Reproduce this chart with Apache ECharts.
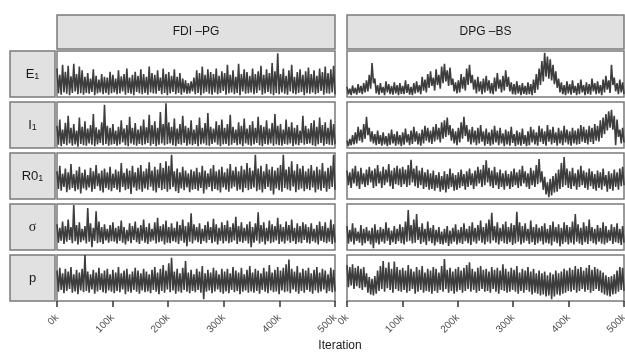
<!DOCTYPE html>
<html>
<head>
<meta charset="utf-8">
<script src="https://cdn.jsdelivr.net/npm/echarts@6/dist/echarts.min.js"></script>
<style>
  html, body { margin: 0; padding: 0; background: #fff; }
  #chart { width: 625px; height: 352px; }
</style>
</head>
<body>
<div id="chart"></div>
<script>
// trace envelopes: for each 5k-iteration step one high and one low value (0-100 of panel height)
const xTicks = [0, 100000, 200000, 300000, 400000, 500000];
const methods = ["FDI \u2013PG", "DPG \u2013BS"];
const params = ["E1", "I1", "R01", "sigma", "p"];

const e1FdiHi = [62,48,70,55,68,45,72,50,66,58, 44,52,40,60,46,38,50,44,42,55, 48,40,58,45,50,62,42,48,55,46, 60,50,44,66,52,48,58,42,62,50,
  54,46,60,44,52,40,36,30,34,42, 58,52,66,48,60,54,50,62,46,56, 52,70,48,58,44,72,50,60,54,46, 62,50,56,68,48,60,52,74,56,95,
  50,62,46,58,70,44,54,60,48,56, 64,50,58,46,62,54,66,52,60,68];
const e1FdiLo = [8,5,10,7,4,9,12,6,8,5, 9,7,11,4,8,10,6,9,5,8, 10,6,8,12,5,9,7,4,11,8, 6,9,5,10,8,7,13,6,9,4,
  8,11,6,9,5,10,7,8,12,6, 9,4,8,11,7,5,10,6,9,13, 5,8,10,6,9,4,12,7,8,10, 6,9,14,5,8,11,7,4,9,6,
  10,7,5,12,8,6,9,11,4,8, 7,10,6,9,13,5,8,7,10,6];

const i1FdiHi = [48,62,40,55,70,44,52,38,66,46, 58,42,50,74,45,40,56,94,48,44, 52,38,46,60,42,50,68,44,54,40, 48,62,45,72,50,58,44,78,52,97,
  56,46,64,42,52,70,48,44,60,40, 50,66,44,54,76,46,42,58,50,62, 44,52,72,46,40,56,48,64,42,50, 58,44,68,50,46,60,42,54,74,48,
  52,40,62,46,56,44,50,38,70,48, 42,54,60,46,66,50,56,44,62,52];
const i1FdiLo = [7,4,9,6,10,5,8,3,9,6, 5,10,7,4,8,11,6,9,5,7, 9,5,8,12,6,4,10,7,5,9, 6,8,11,5,9,4,7,10,6,8,
  10,6,4,9,7,11,5,8,6,9, 4,8,10,6,5,9,12,7,4,8, 9,5,7,11,6,8,4,10,7,5, 8,11,6,4,9,7,10,5,8,6,
  5,9,7,10,4,8,6,11,7,9, 10,6,4,8,11,5,9,7,6,8];

const r0FdiHi = [60,72,55,66,58,76,54,62,70,57, 64,52,68,60,74,56,62,66,58,70, 55,64,60,78,57,66,62,72,58,68, 74,60,66,80,62,70,64,78,68,82,
  72,96,60,66,58,70,62,56,64,60, 68,58,72,62,56,66,74,60,64,70, 58,66,76,62,70,60,72,64,78,68, 62,96,66,72,60,76,64,70,62,68,
  74,96,64,70,82,62,76,66,72,60, 66,74,62,70,64,78,60,68,72,96];
const r0FdiLo = [22,18,26,15,20,24,17,21,12,23, 19,25,16,22,28,18,14,24,20,17, 24,20,15,26,19,22,11,25,18,21, 16,23,20,27,18,14,24,19,22,16,
  21,26,17,13,23,19,25,15,20,22, 18,24,12,21,26,17,22,19,14,25, 20,16,23,27,18,21,15,24,19,22, 25,17,20,14,22,26,18,10,23,19,
  16,24,21,18,27,15,20,23,17,22, 19,25,14,21,18,24,16,22,26,20];

const sigmaFdiHi = [56,48,62,52,66,50,98,54,60,46, 52,91,58,48,84,62,50,56,46,54, 60,48,52,64,50,44,58,52,62,48, 54,66,50,58,46,60,70,52,56,64,
  50,58,48,62,54,66,52,60,80,56, 50,58,46,54,62,50,68,56,48,60, 54,64,50,58,72,52,60,48,56,62, 50,58,82,54,60,48,64,56,52,70,
  56,50,62,54,66,48,58,52,60,56, 50,58,46,54,62,52,60,48,66,56];
const sigmaFdiLo = [16,20,13,18,22,15,19,12,17,21, 14,18,6,20,15,17,13,21,16,19, 18,14,20,16,12,19,15,22,17,13, 20,16,13,18,21,14,17,19,12,16,
  15,19,17,13,20,16,8,18,14,21, 17,13,19,16,22,15,18,12,20,14, 19,15,17,21,13,18,16,20,14,6, 16,20,14,18,12,19,15,17,21,13,
  18,14,20,16,19,13,17,15,22,16, 14,19,16,12,20,17,15,18,13,16];

const pFdiHi = [66,72,60,70,64,74,58,68,62,70, 100,64,58,68,62,72,60,66,70,58, 68,62,74,60,66,70,58,64,72,66, 60,70,64,58,68,74,62,70,78,66,
  82,94,64,70,60,72,87,62,68,58, 70,64,76,60,68,62,72,66,58,70, 64,70,60,74,66,62,72,58,68,76, 62,70,66,60,72,64,78,62,68,74,
  66,72,80,90,70,64,76,62,70,66, 72,60,68,74,62,70,66,58,72,68];
const pFdiLo = [20,24,17,22,26,18,21,15,23,19, 22,18,25,16,21,24,19,17,23,20, 17,22,19,25,15,21,18,24,20,16, 23,19,21,17,24,20,15,22,18,25,
  19,23,16,21,18,24,20,17,22,19, 24,18,4,20,23,17,21,25,19,16, 21,17,24,19,22,15,20,23,18,21, 18,22,16,24,20,17,23,19,21,15,
  23,19,21,17,25,20,16,22,18,24, 20,16,23,18,21,25,17,22,19,21];

const e1DpgHi = [22,18,25,20,28,24,30,36,48,74, 40,26,30,22,34,28,24,32,26,30, 24,36,28,22,30,34,26,44,38,50, 56,42,60,48,66,72,58,64,40,32,
  36,50,44,62,70,48,38,44,34,40, 46,36,30,42,52,38,46,58,44,32, 28,34,26,30,24,32,28,38,50,62, 78,96,88,82,70,56,40,32,26,34,
  28,36,24,30,38,26,32,28,40,30, 34,26,38,46,36,70,42,30,38,32];
const e1DpgLo = [6,4,8,5,9,6,10,12,18,30, 8,5,9,4,10,6,5,8,4,7, 6,9,5,4,8,10,6,14,10,20, 24,14,26,18,30,34,24,26,12,8,
  10,18,14,26,30,16,8,12,6,10, 14,8,6,12,18,10,14,22,12,6, 5,8,4,7,5,6,4,9,16,26, 34,44,40,36,28,20,10,6,4,8,
  5,9,4,6,10,4,7,5,12,6, 8,4,10,16,9,26,12,6,10,7];

const i1DpgHi = [16,20,28,34,46,40,52,68,44,36, 30,38,28,34,26,32,40,30,36,28, 34,42,30,38,46,36,32,40,48,44, 38,46,52,44,56,60,66,50,42,36,
  44,56,68,50,40,46,38,44,50,36, 42,34,40,48,38,44,32,40,36,46, 30,38,34,42,28,36,46,40,34,48, 42,36,50,40,46,34,44,38,48,40,
  36,44,38,42,50,46,40,48,44,52, 48,60,66,74,80,83,70,62,40,44];
const i1DpgLo = [4,6,8,10,16,12,20,28,14,10, 6,9,5,8,4,7,10,5,8,4, 7,12,6,9,14,8,5,10,16,12, 9,14,18,12,20,24,28,16,10,6,
  12,20,26,14,8,12,6,10,14,5, 9,5,8,12,6,10,4,8,5,11, 4,7,5,9,4,6,12,8,5,13, 9,5,14,8,11,5,10,6,12,8,
  5,10,7,9,14,11,8,13,9,16, 14,22,30,38,44,40,6,24,10,12];

const r0DpgHi = [62,58,66,72,60,68,56,64,70,62, 66,74,60,70,64,76,62,68,72,66, 70,64,74,85,66,72,62,68,58,64, 56,62,52,58,50,60,54,66,56,52,
  58,64,54,60,66,56,62,70,64,74, 84,68,62,70,58,64,56,62,54,60, 66,58,64,72,60,56,68,62,74,87, 60,48,36,44,50,56,64,78,91,66,
  60,68,56,64,72,62,58,66,60,54, 62,58,66,52,60,56,64,58,66,70];
const r0DpgLo = [30,24,34,28,22,32,26,30,36,24, 28,34,24,30,36,28,22,32,30,26, 32,26,30,36,28,24,30,22,26,20, 22,18,24,16,20,14,22,26,18,20,
  24,28,20,26,30,22,28,34,26,30, 36,28,24,30,22,26,20,28,22,26, 30,24,28,34,26,22,30,26,32,36, 20,10,4,8,14,16,22,26,30,24,
  22,28,20,26,30,24,20,28,22,18, 24,20,28,16,22,18,26,20,28,30];

const sigmaDpgHi = [52,44,58,48,40,54,46,50,42,48, 56,44,50,46,60,48,42,52,46,56, 50,62,87,54,66,78,50,58,46,62, 48,54,44,50,40,46,52,42,48,56,
  44,50,58,46,52,60,48,54,64,50, 58,66,81,52,60,48,56,62,50,58, 54,83,60,52,58,46,64,50,56,48, 52,58,46,54,62,50,56,48,60,54,
  50,62,78,56,48,60,52,66,50,46, 54,48,60,52,44,56,50,58,46,52];
const sigmaDpgLo = [14,18,12,20,16,10,15,19,12,4, 16,12,18,14,20,11,17,13,19,15, 12,18,20,14,16,22,13,17,11,19, 15,10,17,13,12,16,9,14,18,12,
  16,13,19,15,11,18,14,20,16,12, 18,14,21,16,12,19,15,13,17,11, 14,18,12,16,20,13,17,11,15,19, 12,16,14,10,18,15,8,13,17,12,
  16,12,18,14,11,17,13,19,15,12, 18,14,12,16,20,13,17,15,11,16];

const pDpgHi = [78,74,80,72,76,70,74,60,52,48, 54,66,76,87,72,84,70,86,74,68, 72,66,78,70,64,74,68,76,62,70, 66,74,70,62,76,91,68,72,64,70,
  74,66,72,78,84,70,64,72,76,68, 70,64,74,68,72,66,80,70,64,72, 68,76,62,70,66,74,64,70,60,66, 60,64,56,62,58,66,60,64,70,66,
  72,68,76,70,74,66,72,78,68,74, 70,66,62,56,52,54,58,66,74,72];
const pDpgLo = [30,34,26,32,28,24,30,18,14,12, 16,22,26,20,28,24,18,26,22,20, 24,18,22,26,16,20,24,18,22,20, 16,22,18,24,20,26,18,22,16,20,
  24,18,22,26,20,24,18,22,26,20, 22,18,26,20,16,24,22,18,20,24, 20,16,22,18,24,20,14,18,16,12, 14,10,12,4,10,14,12,16,18,22,
  20,24,18,22,26,20,24,18,22,26, 22,18,14,12,10,14,16,20,24,22];

const traces = [
  [[e1FdiHi, e1FdiLo], [e1DpgHi, e1DpgLo]],
  [[i1FdiHi, i1FdiLo], [i1DpgHi, i1DpgLo]],
  [[r0FdiHi, r0FdiLo], [r0DpgHi, r0DpgLo]],
  [[sigmaFdiHi, sigmaFdiLo], [sigmaDpgHi, sigmaDpgLo]],
  [[pFdiHi, pFdiLo], [pDpgHi, pDpgLo]],
];

const FONT = "'Liberation Sans', Arial, sans-serif";
const colLeft = [57, 347];
const panelW = [278, 277];
const rowTop = 51;
const rowStep = 51;
const panelH = 46;
const lastRow = params.length - 1;
const xMax = xTicks[xTicks.length - 1];

// zigzag the high/low envelope into one dense trace line
function toLine(hi, lo) {
  const n = hi.length * 2;
  const out = [];
  for (let k = 0; k < hi.length; k++) {
    out.push([(2 * k) * xMax / (n - 1), hi[k]]);
    out.push([(2 * k + 1) * xMax / (n - 1), lo[k]]);
  }
  return out;
}

const grid = [], xAxis = [], yAxis = [], series = [];
params.forEach((_, r) => {
  methods.forEach((__, c) => {
    const idx = grid.length;
    grid.push({
      left: colLeft[c], top: rowTop + r * rowStep, width: panelW[c], height: panelH,
      outerBoundsMode: "none",
      show: true, backgroundColor: "#fff", borderColor: "#7a7a7a", borderWidth: 1.5,
    });
    xAxis.push({
      type: "value", gridIndex: idx, min: 0, max: xMax, interval: 100000,
      show: r === lastRow,
      axisLine: { show: false },
      splitLine: { show: false },
      axisTick: { show: true, length: 6, lineStyle: { color: "#333", width: 1.5 } },
      axisLabel: {
        rotate: 45, margin: 15, fontSize: 10, color: "#4d4d4d", fontFamily: FONT,
        formatter: (v) => (v / 1000) + "k",
      },
    });
    yAxis.push({ type: "value", gridIndex: idx, min: 0, max: 100, show: false });
    const [hi, lo] = traces[r][c];
    series.push({
      type: "line", xAxisIndex: idx, yAxisIndex: idx,
      data: toLine(hi, lo), showSymbol: false, clip: true,
      lineStyle: { color: "#3d3d3d", width: 1.6 },
    });
  });
});

const graphic = [];
methods.forEach((m, c) => {
  graphic.push({
    type: "rect", shape: { x: colLeft[c], y: 15, width: panelW[c], height: 34 },
    style: { fill: "#e1e1e1", stroke: "#7a7a7a", lineWidth: 1.5 },
  });
  graphic.push({
    type: "text", x: colLeft[c] + panelW[c] / 2, y: 32,
    style: { text: m, font: "12px " + FONT, fill: "#1a1a1a", align: "center", verticalAlign: "middle" },
  });
});

const rowLabels = [
  { text: "{b|E}{s|1}" },
  { text: "{b|I}{s|1}" },
  { text: "{b|R0}{s|1}" },
  { text: "{g|\u03c3}" },
  { text: "{b|p}" },
];
rowLabels.forEach((lab, r) => {
  const top = rowTop + r * rowStep;
  graphic.push({
    type: "rect", shape: { x: 10, y: top, width: 45, height: panelH },
    style: { fill: "#e1e1e1", stroke: "#7a7a7a", lineWidth: 1.5 },
  });
  graphic.push({
    type: "text", x: 32.5, y: top + panelH / 2,
    style: {
      text: lab.text, align: "center", verticalAlign: "middle", fill: "#1a1a1a",
      rich: {
        b: { fontSize: 13, fontFamily: FONT, lineHeight: 15, verticalAlign: "middle", fill: "#1a1a1a" },
        s: { fontSize: 9, fontFamily: FONT, lineHeight: 9, verticalAlign: "bottom", fill: "#1a1a1a" },
        g: { fontSize: 14, fontFamily: "'Liberation Serif', serif", fill: "#1a1a1a" },
      },
    },
  });
});

graphic.push({
  type: "text", x: 340, y: 346,
  style: { text: "Iteration", font: "12px " + FONT, fill: "#1a1a1a", align: "center", verticalAlign: "middle" },
});

const chart = echarts.init(document.getElementById("chart"), null, { renderer: "canvas" });
chart.setOption({
  animation: false,
  backgroundColor: "#fff",
  grid, xAxis, yAxis, series, graphic,
});
</script>
</body>
</html>
